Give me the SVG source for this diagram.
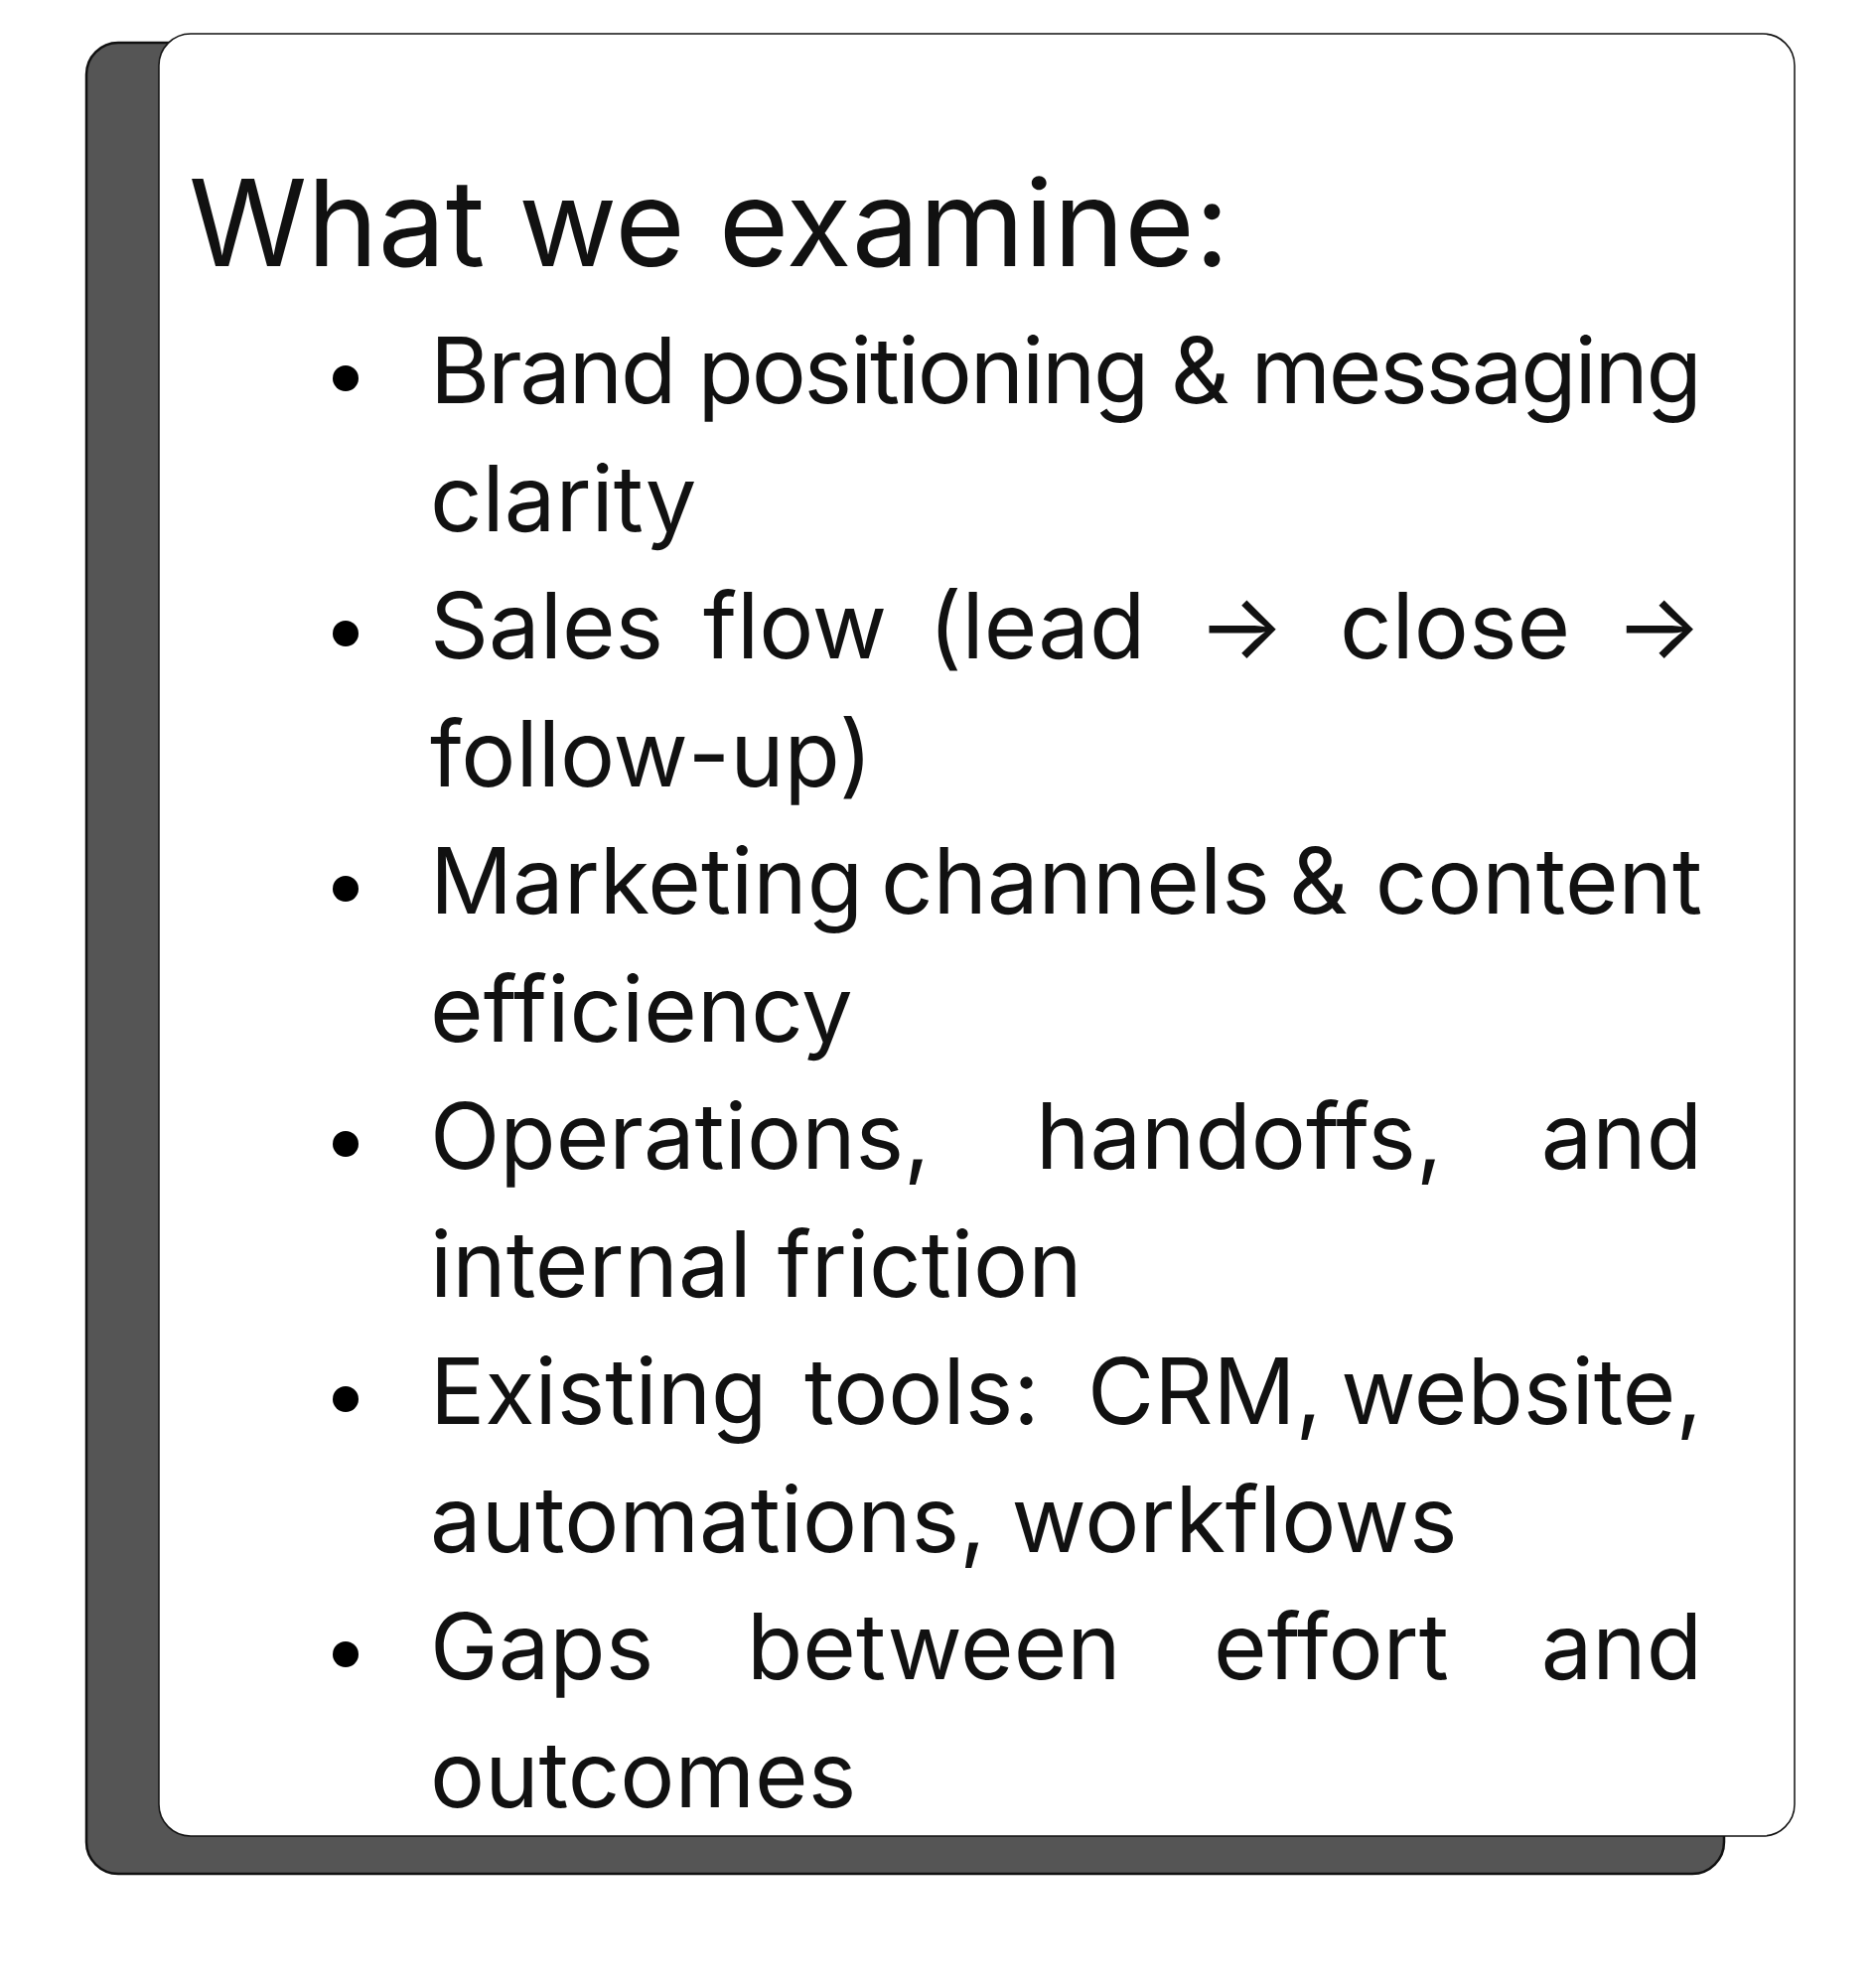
<svg xmlns="http://www.w3.org/2000/svg" width="1889" height="2000" viewBox="0 0 1889 2000">
<style>
.t{font-family:Inter,"Noto Sans","Liberation Sans",sans-serif;fill:#111;}
.b{font-size:92px;}
.h{font-size:121px;}
</style>
<rect width="1889" height="2000" fill="#fff"/>
<g id="card">
<rect x="87" y="43" width="1649" height="1844" rx="32" fill="#555" stroke="#111" stroke-width="2.5"/>
<rect x="160" y="34" width="1647" height="1815" rx="32" fill="#fff" stroke="#111" stroke-width="1.5"/>
</g>
<g id="content">
<text class="t h" x="190" y="268">What we examine:</text>
<g fill="#000">
<circle cx="348" cy="381" r="13"/>
<circle cx="348" cy="638" r="13"/>
<circle cx="348" cy="895" r="13"/>
<circle cx="348" cy="1152" r="13"/>
<circle cx="348" cy="1409" r="13"/>
<circle cx="348" cy="1666" r="13"/>
</g>
<g class="t b">
<text x="433" y="406" textLength="1281" lengthAdjust="spacing">Brand positioning &amp; messaging</text>
<text x="433" y="534.5">clarity</text>
<text x="433" y="663">Sales</text><text x="708" y="663">flow</text><text x="935" y="663">(lead</text><text x="1206" y="663">→</text><text x="1349" y="663">close</text><text x="1714" y="663" text-anchor="end">→</text>
<text x="433" y="791.5">follow-up)</text>
<text x="433" y="920">Marketing</text><text x="887" y="920">channels</text><text x="1298" y="920">&amp;</text><text x="1714" y="920" text-anchor="end">content</text>
<text x="433" y="1048.5">efficiency</text>
<text x="433" y="1177">Operations,</text><text x="1043" y="1177">handoffs,</text><text x="1714" y="1177" text-anchor="end">and</text>
<text x="433" y="1305.5">internal friction</text>
<text x="433" y="1434">Existing</text><text x="810" y="1434">tools:</text><text x="1095" y="1434">CRM,</text><text x="1714" y="1434" text-anchor="end">website,</text>
<text x="433" y="1562.5">automations, workflows</text>
<text x="433" y="1691">Gaps</text><text x="752" y="1691">between</text><text x="1222" y="1691">effort</text><text x="1714" y="1691" text-anchor="end">and</text>
<text x="433" y="1819.5">outcomes</text>
</g>
</g>
</svg>
